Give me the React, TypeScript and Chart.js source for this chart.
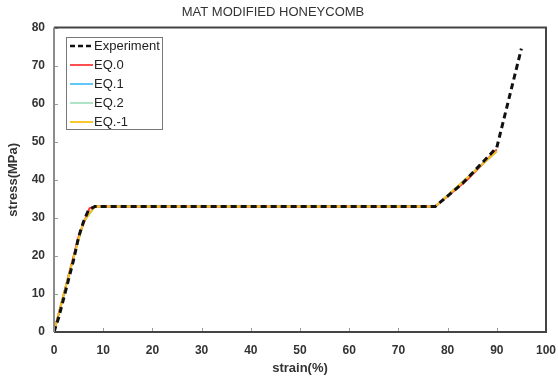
import React, { useEffect, useRef } from "react";
import { Chart, registerables } from "chart.js";

Chart.register(...registerables);

const TITLE = "MAT MODIFIED HONEYCOMB";
const X_LABEL = "strain(%)";
const Y_LABEL = "stress(MPa)";

const expX = [0, 1, 2, 3, 4, 5, 6, 7, 8.3, 77.5, 83, 90, 95];
const expY = [0, 4, 9, 14, 19, 25, 29, 32, 33, 33, 39, 48.5, 74.5];

const eq0X = [0, 3, 5, 6, 7.2, 8.3, 77.5, 84, 90];
const eq0Y = [0, 15, 25, 28.5, 32.5, 33, 33, 40, 48];

const eq1X = [0, 3, 6, 8.3, 77.5, 90];
const eq1Y = [0, 15, 29, 33, 33, 47.5];

const eq2X = [0, 3, 6, 8.3, 77.5, 90];
const eq2Y = [0, 15, 29, 33, 33, 47.5];

const eqm1X = [0, 3, 6, 8.3, 77.5, 90];
const eqm1Y = [0, 15, 29, 33, 33, 47.5];

const SERIES_NAMES = ["Experiment", "EQ.0", "EQ.1", "EQ.2", "EQ.-1"];
const SERIES_COLORS = ["#111111", "#ff3b3b", "#4fc3f7", "#a6e3c0", "#f7c21b"];

const X_TICKS = [0, 10, 20, 30, 40, 50, 60, 70, 80, 90, 100];
const Y_TICKS = [0, 10, 20, 30, 40, 50, 60, 70, 80];

const pts = (xs: number[], ys: number[]) => xs.map((x, i) => ({ x, y: ys[i] }));

const FONT = "Arial, 'Liberation Sans', sans-serif";

const framePlugin = {
  id: "frame",
  afterDatasetsDraw(chart: any) {
    const { ctx, chartArea, scales } = chart;
    const { left, right, top, bottom } = chartArea;
    ctx.save();
    ctx.strokeStyle = "#9a9a9a";
    ctx.lineWidth = 1;
    X_TICKS.forEach((t) => {
      const px = Math.round(scales.x.getPixelForValue(t)) + 0.5;
      ctx.beginPath();
      ctx.moveTo(px, bottom);
      ctx.lineTo(px, bottom - 4);
      ctx.stroke();
    });
    Y_TICKS.forEach((t) => {
      const py = Math.round(scales.y.getPixelForValue(t)) + 0.5;
      ctx.beginPath();
      ctx.moveTo(left, py);
      ctx.lineTo(left + 4, py);
      ctx.stroke();
    });
    ctx.lineWidth = 2;
    ctx.strokeStyle = "#444444";
    ctx.beginPath();
    ctx.moveTo(left, top);
    ctx.lineTo(right, top);
    ctx.lineTo(right, bottom);
    ctx.lineTo(left, bottom);
    ctx.stroke();
    ctx.strokeStyle = "#8c8c8c";
    ctx.beginPath();
    ctx.moveTo(left, top);
    ctx.lineTo(left, bottom);
    ctx.stroke();

    const lx = 66, ly = 37, lw = 96, lh = 92;
    ctx.fillStyle = "#ffffff";
    ctx.fillRect(lx, ly, lw, lh);
    ctx.lineWidth = 1;
    ctx.strokeStyle = "#777777";
    ctx.strokeRect(lx + 0.5, ly + 0.5, lw, lh);
    ctx.font = `13px ${FONT}`;
    ctx.textBaseline = "middle";
    ctx.textAlign = "left";
    SERIES_NAMES.forEach((name, i) => {
      const y = ly + 9 + i * 19;
      ctx.strokeStyle = SERIES_COLORS[i];
      ctx.lineWidth = i === 0 ? 2.5 : 1.8;
      ctx.setLineDash(i === 0 ? [5, 3] : []);
      ctx.beginPath();
      ctx.moveTo(lx + 4, y);
      ctx.lineTo(lx + 27, y);
      ctx.stroke();
      ctx.setLineDash([]);
      ctx.fillStyle = "#222222";
      ctx.fillText(name, lx + 28, y);
    });
    ctx.restore();
  },
};

export default function App() {
  const ref = useRef<HTMLCanvasElement | null>(null);
  useEffect(() => {
    document.body.style.margin = "0";
    const canvas = ref.current;
    if (!canvas) return;
    const xsArr = [expX, eq0X, eq1X, eq2X, eqm1X];
    const ysArr = [expY, eq0Y, eq1Y, eq2Y, eqm1Y];
    const orders = [0, 2, 4, 3, 1];
    const chart = new Chart(canvas, {
      type: "line",
      data: {
        datasets: SERIES_NAMES.map((name, i) => ({
          label: name,
          data: pts(xsArr[i], ysArr[i]),
          borderColor: SERIES_COLORS[i],
          backgroundColor: SERIES_COLORS[i],
          borderWidth: i === 0 ? 3 : 2,
          borderDash: i === 0 ? [6, 4] : [],
          pointRadius: 0,
          tension: 0,
          fill: false,
          order: orders[i],
        })),
      },
      plugins: [framePlugin],
      options: {
        animation: false,
        responsive: false,
        maintainAspectRatio: false,
        layout: { padding: { left: 0, right: 12, top: 0, bottom: 0 } },
        plugins: {
          legend: { display: false },
          tooltip: { enabled: false },
          title: {
            display: true,
            text: TITLE,
            color: "#333333",
            font: { family: FONT, size: 13, weight: "normal" },
            padding: { top: 5, bottom: 7 },
          },
        },
        scales: {
          x: {
            type: "linear",
            min: 0,
            max: 100,
            afterBuildTicks: (s: any) => {
              s.ticks = X_TICKS.map((v) => ({ value: v }));
            },
            afterFit: (s: any) => {
              s.height = 47;
              s.paddingLeft = 0;
              s.paddingRight = 0;
            },
            grid: { display: false, drawTicks: false },
            border: { display: false },
            ticks: {
              padding: 11,
              color: "#333333",
              font: { family: FONT, size: 12, weight: "bold" },
              maxRotation: 0,
            },
            title: {
              display: true,
              text: X_LABEL,
              color: "#333333",
              font: { family: FONT, size: 13, weight: "bold" },
              padding: { top: 0, bottom: 3 },
            },
          },
          y: {
            type: "linear",
            min: 0,
            max: 80,
            afterBuildTicks: (s: any) => {
              s.ticks = Y_TICKS.map((v) => ({ value: v }));
            },
            afterFit: (s: any) => {
              s.width = 54;
              s.paddingTop = 0;
              s.paddingBottom = 0;
            },
            grid: { display: false, drawTicks: false },
            border: { display: false },
            ticks: {
              padding: 9,
              color: "#333333",
              font: { family: FONT, size: 12, weight: "bold" },
            },
            title: {
              display: true,
              text: Y_LABEL,
              color: "#333333",
              font: { family: FONT, size: 13, weight: "bold" },
              padding: { top: 6, bottom: 0 },
            },
          },
        },
      },
    } as any);
    return () => chart.destroy();
  }, []);
  return (
    <div style={{ position: "absolute", left: 0, top: 0, width: 558, height: 379, background: "#fff" }}>
      <canvas ref={ref} width={558} height={379} style={{ width: 558, height: 379 }} />
    </div>
  );
}
